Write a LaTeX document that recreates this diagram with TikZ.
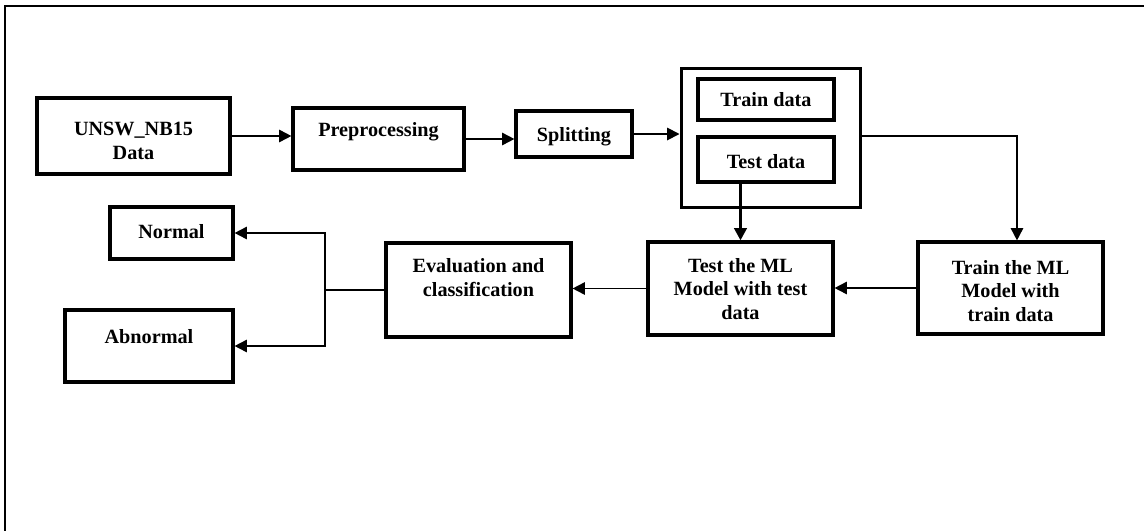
\documentclass[tikz,border=0pt]{standalone}
\usepackage{fontspec}
\setmainfont{Liberation Serif}
\usepackage{tikz}
\usetikzlibrary{arrows.meta,positioning}

\begin{document}
\begin{tikzpicture}[x=0.02cm,y=-0.02cm,
    box/.style={draw,line width=1.8pt,inner sep=0pt},
    txt/.style={align=center,inner sep=0pt,
      font=\bfseries\fontsize{11.5}{13.6}\selectfont},
    arr/.style={-{Triangle[length=7pt,width=7pt]},line width=1pt}]
  \useasboundingbox (0,0) rectangle (1144,531);
  \draw[line width=1pt] (5,531) -- (5,6) -- (1144,6);

  \node[box,minimum width=3.86cm,minimum height=1.52cm] (data) at (133.5,136) {};
  \node[txt] (data-t) at (133.5,141) {UNSW\_NB15\\Data};
  \node[box,minimum width=3.42cm,minimum height=1.24cm] (pre) at (378.5,139) {};
  \node[txt] (pre-t) at (378.5,132) {Preprocessing};
  \node[box,minimum width=2.32cm,minimum height=0.92cm] (split) at (574,134) {};
  \node[txt] (split-t) at (574,137) {Splitting};

  \node[box,line width=1.7pt,minimum width=3.6cm,minimum height=2.8cm] (sets) at (771,138) {};
  \node[box,minimum width=2.72cm,minimum height=0.82cm] (traind) at (766,99.5) {};
  \node[txt] (traind-t) at (766,100) {Train data};
  \node[box,minimum width=2.72cm,minimum height=0.9cm] (testd) at (766,159.5) {};
  \node[txt] (testd-t) at (766,162) {Test data};

  \node[box,minimum width=3.7cm,minimum height=1.84cm] (trainml) at (1010.5,288) {};
  \node[txt] (trainml-t) at (1010.5,291) {Train the ML\\Model with\\train data};
  \node[box,minimum width=3.7cm,minimum height=1.86cm] (testml) at (740.5,288.5) {};
  \node[txt] (testml-t) at (740.5,289) {Test the ML\\Model with test\\data};
  \node[box,minimum width=3.7cm,minimum height=1.88cm] (eval) at (478.5,290) {};
  \node[txt] (eval-t) at (478.5,278) {Evaluation and\\classification};

  \node[box,minimum width=2.46cm,minimum height=1.04cm] (normal) at (171.5,233) {};
  \node[txt] (normal-t) at (171.5,232) {Normal};
  \node[box,minimum width=3.36cm,minimum height=1.44cm] (abnormal) at (149,346) {};
  \node[txt] (abnormal-t) at (149,337) {Abnormal};

  \coordinate (fork) at (325,290);

  \draw[arr] (data.east) -- (data.east -| pre.west);
  \draw[arr] (pre.east) -- (pre.east -| split.west);
  \draw[arr] (split.east) -- (split.east -| sets.west);
  \draw[arr] ([yshift=1.2pt]sets.east) -| ([xshift=3.7pt]trainml.north);
  \draw[arr,line width=1.8pt] (testml.north |- testd.south) -- (testml.north);
  \draw[arr] (trainml.west) -- (trainml.west -| testml.east);
  \draw[arr] (testml.west) -- (testml.west -| eval.east);
  \draw[line width=1pt] (eval.west) -- (fork);
  \draw[arr] (fork) |- (normal.east);
  \draw[arr] (fork) |- (abnormal.east);
\end{tikzpicture}
\end{document}
